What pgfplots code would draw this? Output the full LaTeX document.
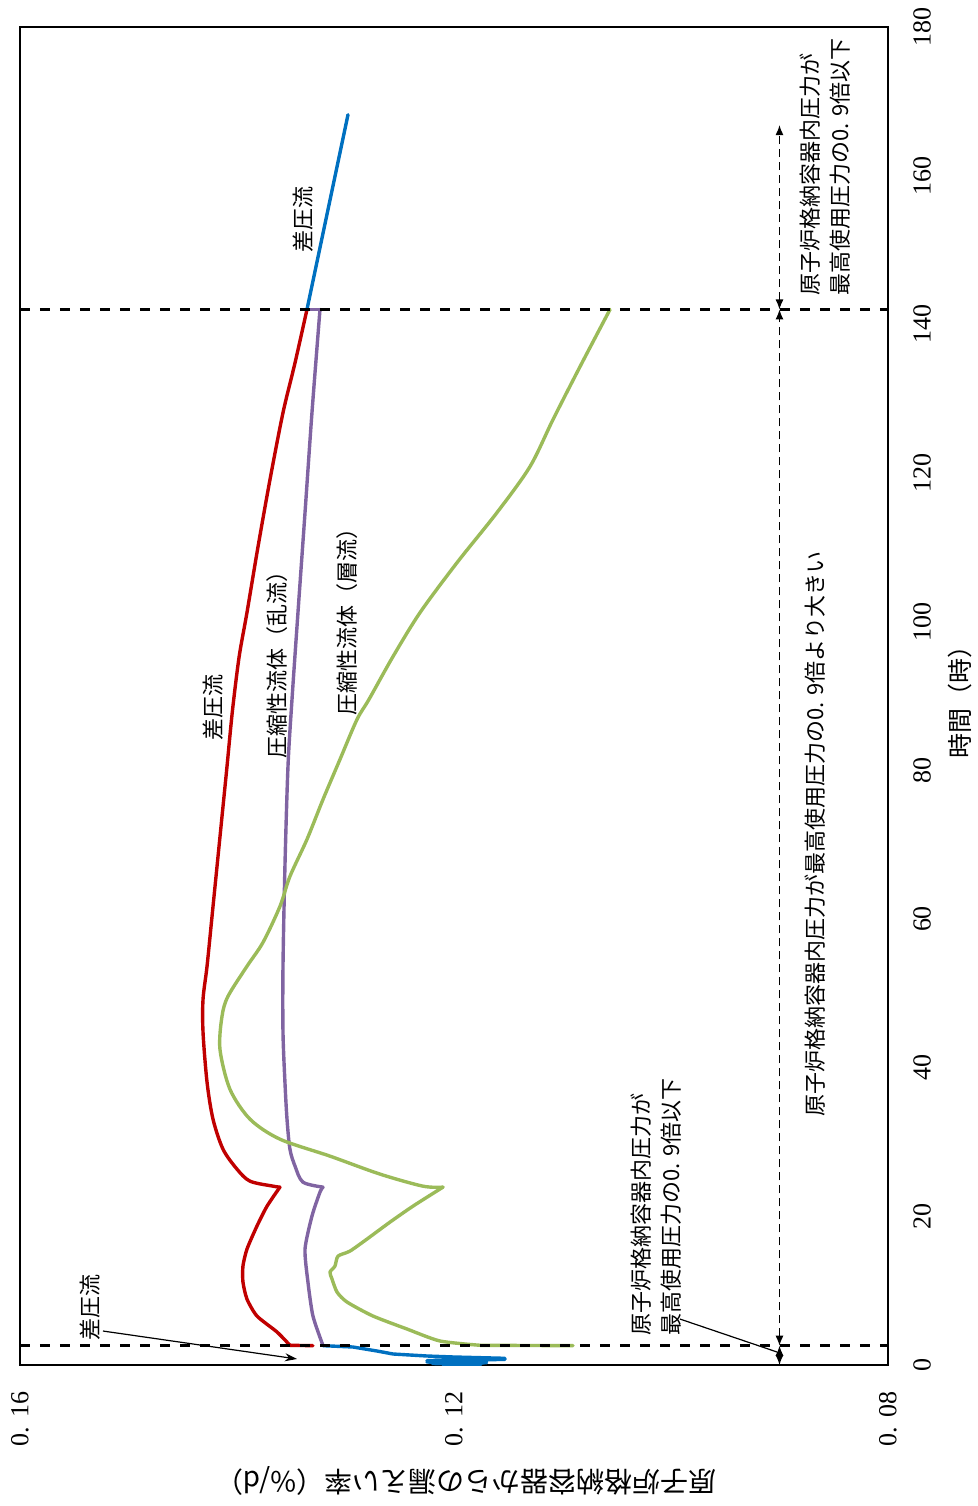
\documentclass[border=0pt]{standalone}
\usepackage{pgfplots}
\pgfplotsset{compat=1.18}
\usepackage{fontspec}
\setmainfont{Liberation Serif}
\newfontfamily\jp{Noto Sans CJK JP}
\usetikzlibrary{arrows.meta}
\definecolor{cred}{HTML}{C00000}
\definecolor{cpurple}{HTML}{8064A2}
\definecolor{cgreen}{HTML}{9BBB59}
\definecolor{cblue}{HTML}{0070C0}
\begin{document}
\begin{tikzpicture}
\begin{axis}[
  scale only axis, width=434pt, height=669pt,
  xmin=0.08, xmax=0.16, x dir=reverse,
  ymin=0, ymax=180,
  xtick={0.08,0.12,0.16}, xticklabels={0. 08,0. 12,0. 16},
  ytick={0,20,...,180},
  yticklabel pos=right,
  /pgf/number format/assume math mode=true,
  major tick length=0pt,
  xtick style={draw=none}, ytick style={draw=none},
  axis line style={line width=1.1pt},
  xticklabel style={rotate=90, anchor=center, xshift=-27pt, font=\fontsize{13}{15}\selectfont},
  yticklabel style={rotate=90, anchor=center, yshift=-17pt, font=\fontsize{13}{15}\selectfont},
  xlabel={原子炉格納容器からの漏えい率（\%/d）},
  xlabel style={at={(axis description cs:0.5,0)}, anchor=center, yshift=-58pt, xshift=6pt, rotate=180, font=\jp\fontsize{14}{16}\selectfont},
  ylabel={時間（時）},
  ylabel style={at={(axis description cs:1,0.5)}, anchor=center, yshift=-36pt, font=\jp\fontsize{12.5}{14}\selectfont},
  every axis plot/.append style={no marks, line width=1.7pt, line join=round, line cap=round},
]
% red: differential pressure flow
\addplot[cred] coordinates {(0.13300,2.6) (0.13512,2.65)};
\addplot[cred, smooth, tension=0.4] coordinates {
(0.13512,2.65) (0.13631,4.44) (0.13816,6.59) (0.13908,8.87)
(0.13945,11.16) (0.13945,13.31) (0.13908,15.59) (0.13816,18.69) (0.13723,21.37)
(0.13604,23.93)
};
\addplot[cred, smooth, tension=0.5] coordinates {
(0.13604,23.93) (0.13668,24.06) (0.13880,24.73) (0.14000,26.35) (0.14129,29.04)
(0.14221,33.07) (0.14276,38.04) (0.14313,44.76) (0.14313,49.20) (0.14276,53.64)
(0.14230,60.36) (0.14184,67.08) (0.14138,73.80) (0.14092,80.52) (0.14042,88.0)
(0.13980,95.3) (0.13908,101.22) (0.13806,110.10) (0.13696,119.10) (0.13576,128.11) (0.13465,134.83)
(0.13355,142.0)
};
% purple: compressible turbulent
\addplot[cpurple, smooth, tension=0.4] coordinates {
(0.13207,2.6) (0.13300,6.59) (0.13346,11.16) (0.13373,15.59) (0.13309,20.03)
(0.13235,23.26) (0.13207,23.93)
};
\addplot[cpurple, smooth, tension=0.5] coordinates {
(0.13207,23.93) (0.13392,24.60) (0.13465,26.75) (0.13512,29.04)
(0.13539,33.07) (0.13558,38.04) (0.13576,44.76) (0.13576,53.64) (0.13558,67.08)
(0.13530,80.52) (0.13493,89.53) (0.13438,101.22) (0.13373,114.67) (0.13309,128.11)
(0.13235,142.0)
};
\addplot[cpurple] coordinates {(0.13235,142.0) (0.13355,142.0)};
% green: compressible laminar
\addplot[cgreen] coordinates {(0.10903,2.6) (0.11760,2.65)};
\addplot[cgreen, smooth, tension=0.4] coordinates {
(0.11760,2.65) (0.12129,3.23) (0.12433,4.84) (0.12747,6.59)
(0.12986,8.47) (0.13078,9.81) (0.13124,11.56) (0.13143,12.50) (0.13097,13.31)
(0.13069,14.65) (0.12959,15.32) (0.12802,16.94) (0.12590,19.22) (0.12378,21.37)
(0.12101,23.93)
};
\addplot[cgreen, smooth, tension=0.5] coordinates {
(0.12101,23.93) (0.12286,24.06) (0.12682,25.68) (0.13143,28.10) (0.13604,30.38)
(0.13880,33.07) (0.14065,37.10) (0.14157,42.48) (0.14138,46.92) (0.14083,49.60)
(0.13908,53.64) (0.13760,56.86) (0.13604,61.70) (0.13512,65.73) (0.13355,70.71)
(0.13207,76.09) (0.13051,81.46) (0.12894,86.84) (0.12784,89.53) (0.12562,95.31)
(0.12313,101.22) (0.11972,107.94) (0.11604,114.67) (0.11300,120.85) (0.11088,127.17)
(0.10839,134.29) (0.10562,142.0)
};
% blue: differential pressure flow (early, noisy) and after 142 h
\addplot[cblue] coordinates {
(0.13207,2.6) (0.12931,2.42) (0.12709,1.88) (0.12562,1.48) (0.12249,1.21)
(0.12010,1.08) (0.11530,0.9) (0.12000,0.81) (0.11530,0.75) (0.12249,0.6)
(0.11700,0.5) (0.12249,0.4) (0.11700,0.3) (0.12200,0.2) (0.11750,0.1) (0.12100,0.0)
};
\addplot[cblue] coordinates {(0.13355,142.0) (0.12977,168.2)};
% dashed separators
\draw[black, line width=1.3pt, dash pattern=on 5pt off 5pt] (axis cs:0.16,2.6) -- (axis cs:0.08,2.6);
\draw[black, line width=1.3pt, dash pattern=on 5pt off 5pt] (axis cs:0.16,142) -- (axis cs:0.08,142);
% range arrows
\draw[black, line width=0.6pt, dash pattern=on 4pt off 2.5pt, {Latex[length=5pt,width=4pt]}-{Latex[length=5pt,width=4pt]}] (axis cs:0.09,0) -- (axis cs:0.09,2.6);
\draw[black, line width=0.6pt, dash pattern=on 4pt off 2.5pt, {Latex[length=5pt,width=4pt]}-{Latex[length=5pt,width=4pt]}] (axis cs:0.09,2.6) -- (axis cs:0.09,142);
\draw[black, line width=0.6pt, dash pattern=on 4pt off 2.5pt, {Latex[length=5pt,width=4pt]}-{Latex[length=5pt,width=4pt]}] (axis cs:0.09,142) -- (axis cs:0.09,166.8);
% annotations
\begin{scope}[every node/.style={rotate=90, font=\jp\fontsize{11}{15}\selectfont}]
\node at (axis cs:0.14221,88.45) {差圧流};
\node at (axis cs:0.13631,94.9) {圧縮性流体（乱流）};
\node at (axis cs:0.12986,100.7) {圧縮性流体（層流）};
\node at (axis cs:0.13392,154.1) {差圧流};
\node[align=left] at (axis cs:0.08581,161.2) {原子炉格納容器内圧力が\\最高使用圧力の0. 9倍以下};
\node[align=left] at (axis cs:0.10138,21.24) {原子炉格納容器内圧力が\\最高使用圧力の0. 9倍以下};
\node at (axis cs:0.08673,71.4) {原子炉格納容器内圧力が最高使用圧力の0. 9倍より大きい};
\node at (axis cs:0.15355,7.8) {差圧流};
\end{scope}
\draw[black, line width=0.6pt, -{Stealth[length=6pt,width=4pt]}] (axis cs:0.15235,4.57) -- (axis cs:0.13447,0.81);
\draw[black, line width=0.6pt] (axis cs:0.09917,6.18) -- (axis cs:0.09023,1.75);
\end{axis}
\pgfresetboundingbox
\path[use as bounding box] (-10pt,-70.5pt) rectangle (479pt,682.5pt);
\end{tikzpicture}
\end{document}
